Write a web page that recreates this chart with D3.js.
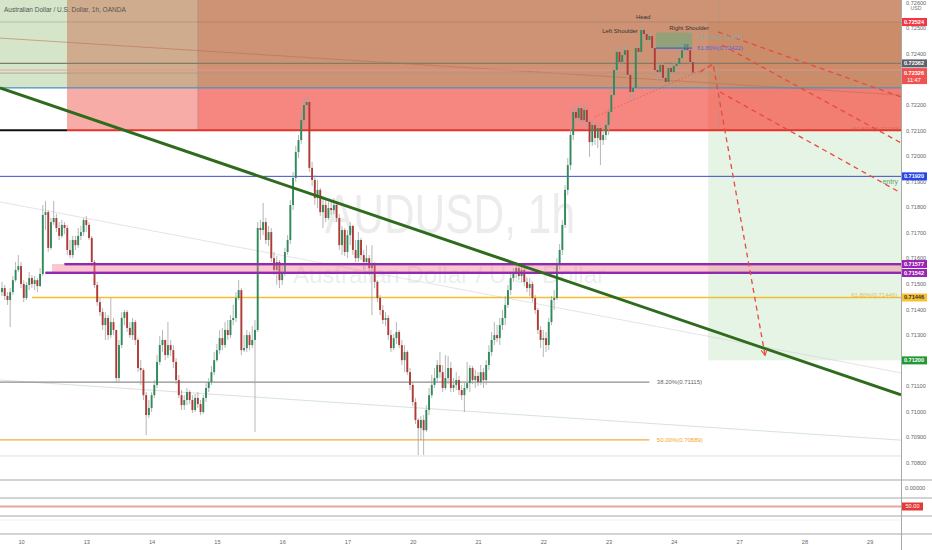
<!DOCTYPE html>
<html><head><meta charset="utf-8">
<script src="https://cdn.jsdelivr.net/npm/d3@7/dist/d3.min.js"></script>
<style>html,body{margin:0;padding:0;background:#fff;overflow:hidden}svg{display:block;font-family:"Liberation Sans",Arial,sans-serif}</style>
</head><body><svg id="chart" width="932" height="550"></svg>
<script>
// ---------------- DATA ----------------
const title = "Australian Dollar / U.S. Dollar, 1h, OANDA";
const watermarkMain = "AUDUSD, 1h";
const watermarkSub = "Australian Dollar / U.S. Dollar";
const firstOpen = 0.71467;
const closes = [
0.71483,0.71452,0.71436,0.71467,0.71514,0.71554,0.71569,0.71499,0.71444,0.71495,
0.71522,0.71499,0.71514,0.71491,0.71538,0.71769,0.71780,0.71640,0.71741,0.71757,
0.71718,0.71687,0.71730,0.71718,0.71632,0.71612,0.71671,0.71651,0.71687,0.71702,
0.71749,0.71730,0.71679,0.71585,0.71495,0.71428,0.71389,0.71338,0.71366,0.71299,
0.71350,0.71319,0.71131,0.71260,0.71366,0.71389,0.71327,0.71299,0.71350,0.71280,
0.71170,0.71162,0.71064,0.70986,0.71014,0.71064,0.71104,0.71194,0.71260,0.71280,
0.71221,0.71260,0.71240,0.71194,0.71123,0.71064,0.71025,0.71045,0.71076,0.71045,
0.71006,0.71053,0.71029,0.70998,0.71053,0.71092,0.71115,0.71154,0.71201,0.71240,
0.71287,0.71260,0.71319,0.71299,0.71358,0.71366,0.71444,0.71475,0.71240,0.71248,
0.71299,0.71260,0.71280,0.71319,0.71718,0.71710,0.71741,0.71671,0.71702,0.71600,
0.71554,0.71585,0.71514,0.71546,0.71624,0.71671,0.71808,0.71914,0.72015,0.72062,
0.72140,0.72199,0.72211,0.71953,0.71906,0.71835,0.71867,0.71780,0.71808,0.71757,
0.71796,0.71788,0.71808,0.71757,0.71651,0.71710,0.71624,0.71690,0.71726,0.71632,
0.71600,0.71671,0.71612,0.71585,0.71600,0.71561,0.71573,0.71507,0.71444,0.71397,
0.71358,0.71366,0.71299,0.71248,0.71287,0.71311,0.71260,0.71201,0.71233,0.71154,
0.71104,0.71037,0.70967,0.70935,0.70967,0.70927,0.71006,0.71064,0.71104,0.71131,
0.71182,0.71154,0.71092,0.71131,0.71170,0.71092,0.71104,0.71123,0.71084,0.71064,
0.71092,0.71111,0.71170,0.71123,0.71139,0.71115,0.71154,0.71123,0.71182,0.71233,
0.71280,0.71299,0.71287,0.71338,0.71366,0.71417,0.71475,0.71522,0.71546,0.71561,
0.71530,0.71554,0.71507,0.71483,0.71499,0.71444,0.71397,0.71319,0.71280,0.71287,
0.71260,0.71350,0.71436,0.71444,0.71573,0.71632,0.71730,0.71867,0.71964,0.72082,
0.72172,0.72148,0.72187,0.72140,0.72180,0.72133,0.72054,0.72121,0.72070,0.72109,
0.72062,0.72082,0.72121,0.72172,0.72238,0.72336,0.72407,0.72367,0.72395,0.72414,
0.72317,0.72250,0.72266,0.72422,0.72407,0.72493,0.72477,0.72454,0.72469,0.72422,
0.72336,0.72328,0.72356,0.72305,0.72289,0.72344,0.72328,0.72352,0.72360,0.72383,
0.72414,0.72438,0.72414,0.72367,0.72326];
const highs = [
0.71507,0.71495,0.71467,0.71483,0.71530,0.71585,0.71612,0.71585,0.71514,0.71507,
0.71546,0.71534,0.71530,0.71522,0.71561,0.71808,0.71824,0.71788,0.71757,0.71824,
0.71773,0.71741,0.71749,0.71741,0.71730,0.71671,0.71687,0.71687,0.71718,0.71726,
0.71757,0.71765,0.71741,0.71687,0.71593,0.71507,0.71444,0.71405,0.71389,0.71377,
0.71444,0.71366,0.71319,0.71280,0.71389,0.71397,0.71397,0.71350,0.71366,0.71358,
0.71287,0.71201,0.71170,0.71076,0.71045,0.71076,0.71123,0.71221,0.71295,0.71319,
0.71280,0.71350,0.71280,0.71260,0.71209,0.71143,0.71084,0.71064,0.71092,0.71084,
0.71064,0.71068,0.71076,0.71045,0.71064,0.71111,0.71131,0.71178,0.71233,0.71264,
0.71319,0.71327,0.71350,0.71358,0.71377,0.71417,0.71467,0.71514,0.71483,0.71299,
0.71319,0.71311,0.71334,0.71358,0.71741,0.71749,0.71816,0.71757,0.71726,0.71718,
0.71624,0.71608,0.71593,0.71573,0.71640,0.71690,0.71827,0.71937,0.72039,0.72082,
0.72172,0.72227,0.72238,0.72219,0.71976,0.71925,0.71906,0.71874,0.71843,0.71827,
0.71820,0.71827,0.71835,0.71820,0.71773,0.71726,0.71718,0.71710,0.71741,0.71730,
0.71671,0.71702,0.71679,0.71632,0.71651,0.71612,0.71651,0.71585,0.71514,0.71456,
0.71417,0.71389,0.71377,0.71319,0.71303,0.71350,0.71319,0.71280,0.71260,0.71240,
0.71170,0.71115,0.71053,0.70974,0.70982,0.70986,0.71025,0.71092,0.71143,0.71170,
0.71201,0.71233,0.71182,0.71221,0.71217,0.71194,0.71131,0.71154,0.71139,0.71104,
0.71115,0.71194,0.71182,0.71178,0.71162,0.71154,0.71182,0.71170,0.71201,0.71260,
0.71311,0.71350,0.71338,0.71366,0.71397,0.71452,0.71495,0.71546,0.71561,0.71585,
0.71573,0.71577,0.71561,0.71522,0.71522,0.71507,0.71456,0.71405,0.71334,0.71319,
0.71311,0.71366,0.71452,0.71475,0.71600,0.71655,0.71749,0.71886,0.71992,0.72109,
0.72195,0.72199,0.72203,0.72199,0.72203,0.72195,0.72148,0.72140,0.72133,0.72125,
0.72121,0.72109,0.72140,0.72187,0.72258,0.72356,0.72430,0.72422,0.72426,0.72438,
0.72414,0.72328,0.72289,0.72438,0.72434,0.72504,0.72508,0.72493,0.72485,0.72477,
0.72434,0.72367,0.72375,0.72367,0.72336,0.72360,0.72360,0.72367,0.72375,0.72399,
0.72438,0.72454,0.72446,0.72422,0.72383];
const lows = [
0.71452,0.71436,0.71417,0.71330,0.71456,0.71507,0.71546,0.71483,0.71428,0.71436,
0.71475,0.71483,0.71475,0.71467,0.71487,0.71530,0.71710,0.71624,0.71632,0.71730,
0.71702,0.71671,0.71679,0.71694,0.71612,0.71600,0.71600,0.71632,0.71640,0.71671,
0.71687,0.71702,0.71671,0.71569,0.71483,0.71413,0.71374,0.71319,0.71280,0.71280,
0.71287,0.71299,0.71115,0.71115,0.71248,0.71338,0.71311,0.71287,0.71280,0.71260,
0.71154,0.71104,0.71045,0.70908,0.70974,0.70998,0.71053,0.71092,0.71182,0.71233,
0.71201,0.71209,0.71217,0.71170,0.71107,0.71053,0.71006,0.71006,0.71025,0.71029,
0.70994,0.70998,0.71014,0.70986,0.70990,0.71037,0.71076,0.71104,0.71143,0.71194,
0.71225,0.71240,0.71248,0.71280,0.71287,0.71338,0.71350,0.71436,0.71221,0.71233,
0.71233,0.71240,0.71248,0.70920,0.71311,0.71671,0.71690,0.71655,0.71647,0.71585,
0.71534,0.71495,0.71483,0.71495,0.71530,0.71612,0.71655,0.71788,0.71898,0.71992,
0.72047,0.72117,0.72180,0.71937,0.71882,0.71808,0.71796,0.71765,0.71718,0.71741,
0.71749,0.71769,0.71773,0.71741,0.71632,0.71612,0.71608,0.71600,0.71651,0.71612,
0.71585,0.71585,0.71593,0.71554,0.71573,0.71534,0.71377,0.71483,0.71428,0.71377,
0.71342,0.71334,0.71280,0.71233,0.71240,0.71264,0.71248,0.71182,0.71154,0.71143,
0.71084,0.71021,0.70951,0.70830,0.70888,0.70830,0.70920,0.70986,0.71053,0.71092,
0.71115,0.71131,0.71076,0.71084,0.71107,0.71076,0.71076,0.71084,0.71064,0.71045,
0.70998,0.71084,0.71076,0.71107,0.71092,0.71100,0.71104,0.71092,0.71104,0.71162,
0.71217,0.71260,0.71272,0.71260,0.71319,0.71338,0.71405,0.71456,0.71507,0.71522,
0.71514,0.71507,0.71491,0.71467,0.71452,0.71428,0.71381,0.71303,0.71248,0.71213,
0.71233,0.71240,0.71338,0.71397,0.71436,0.71554,0.71612,0.71718,0.71847,0.71945,
0.72062,0.72121,0.72133,0.72117,0.72125,0.72101,0.71996,0.72039,0.72043,0.72031,
0.71964,0.72043,0.72062,0.72082,0.72160,0.72227,0.72320,0.72352,0.72352,0.72367,
0.72297,0.72219,0.72219,0.72250,0.72383,0.72399,0.72454,0.72438,0.72438,0.72407,
0.72320,0.72297,0.72305,0.72289,0.72277,0.72281,0.72313,0.72320,0.72336,0.72352,
0.72367,0.72399,0.72399,0.72352,0.72320];

// x-axis day ticks (bar index where each day starts)
const dayTickIndex = [7,31,55,79,103,127,151,175,199,223,247,271,295,319];
const dayTickLabel = ["10","13","14","15","16","17","20","21","22","23","24","27","28","29"];
// price axis ticks (those not hidden behind the coloured price markers)
const priceTicks = [0.726,0.725,0.724,0.722,0.721,0.720,0.719,0.718,0.717,0.716,0.715,0.714,0.713,0.711,0.710,0.709,0.708];

// zones: [startBar, endBar, topPrice, bottomPrice]
const zoneStart  = [23.9, 72, 259.6, -1, 259.6];
const zoneEnd    = [331, 331, 331, 331, 331];
const zoneTop    = [0.7262, 0.7262, 0.72524, 0.7262, 0.72100];
const zoneBottom = [0.72100, 0.72100, 0.72100, 0.72266, 0.71200];

// horizontal levels
const levelPrice = [0.72524, 0.72362, 0.72336, 0.72324, 0.72266, 0.72100, 0.72100, 0.71920, 0.71577, 0.71542, 0.71446, 0.71115, 0.70889, 0.70826];
const levelStart = [-1, -1, -1, -1, -1, -1, 23.9, -1, 23, 16, 11, -1, -1, -1];
const levelEnd   = [331, 331, 331, 331, 331, 23.9, 331, 331, 331, 331, 331, 238, 238, 331];

// band between the two purple levels
const bandStart = 18.4, bandTop = 0.71577, bandBottom = 0.71542;

// sloped lines: [bar, price] pairs
const trendLine = [[-0.74, 0.72266], [330.5, 0.71065]];
const thinLines = [
  [[-0.74, 0.72461], [330.5, 0.72238]],
  [[-0.74, 0.71820], [330.5, 0.71151]],
  [[-0.74, 0.71123], [330.5, 0.70888]]
];
const projectionLines = [
  [[263.2, 0.72485], [330.5, 0.72231]],
  [[264.7, 0.72434], [330.5, 0.72051]],
  [[264.0, 0.72250], [330.5, 0.71855]]
];
const projectionArrow = [[256.6, 0.72328], [261.4, 0.72360], [280.5, 0.71221]];
const neckline = [[218, 0.72153], [261.4, 0.72356]];
const positionDivider = [[263.6, 0.7262], [263.6, 0.72100]];

// fib box near right shoulder
const fibBoxStart = 240.4, fibBoxEnd = 253.7, fibHigh = 0.72482, fibLow = 0.72422;

// pattern annotations
const patternText  = ["Left Shoulder", "Head", "Right Shoulder"];
const patternBar   = [227.2, 235.7, 252.6];
const patternPrice = [0.72481, 0.72536, 0.72493];

// fib labels
const fibLabelText  = ["38.20%(0.71115)", "50.00%(0.70889)", "78.60%(0.72482)", "61.80%(0.72422)", "61.80%(0.71446)", "61.80%(0.72100)", "entry"];
const fibLabelBar   = [240, 240, 254.8, 254.8, 329.1, 329.8, 329.4];
const fibLabelPrice = [0.71115, 0.70889, 0.72465, 0.72422, 0.71458, 0.72104, 0.71900];

// right-axis price markers
const markerPrice = [0.72524, 0.72362, 0.71920, 0.71577, 0.71542, 0.71446, 0.71200, 0.72326];
const countdown = "11:47";

// lower panes
const pane2Value = [0];
const pane3Level = [50];

// ---------------- STYLES / LAYOUT ----------------
const W = 932, H = 550, plotR = 901, mainBottom = 480;
const zoneFill = ["rgba(240,70,60,0.45)", "rgba(240,70,60,0.36)", "rgba(230,90,60,0.22)", "rgba(120,175,90,0.32)", "rgba(76,175,80,0.14)"];
const levelStyle = [
  {c:"rgba(120,100,90,0.35)", w:0.8},
  {c:"#857a66", w:1.1},
  {c:"rgba(235,150,140,0.9)", w:0.9},
  {c:"rgba(175,150,140,0.9)", w:0.9},
  {c:"#4a8fc6", w:1.1},
  {c:"#111", w:2},
  {c:"#e0352b", w:2},
  {c:"#3d4fc4", w:1},
  {c:"#8e2bb0", w:2.2},
  {c:"#8e2bb0", w:2.2},
  {c:"#f2bf2c", w:1.6},
  {c:"#8d8d8d", w:1.4},
  {c:"#f6aa48", w:1.4},
  {c:"rgba(200,200,200,0.7)", w:0.8}
];
const thinStyle = ["rgba(185,110,80,0.55)", "rgba(205,205,215,0.55)", "rgba(195,215,200,0.7)"];
const markerBg = ["#f23645", "#5d606b", "#2646e6", "#9a24b4", "#9a24b4", "#f7c233", "#1f9a34", "#ef5350"];
const markerFg = ["#fff", "#fff", "#fff", "#fff", "#fff", "#333", "#fff", "#fff"];
const fibLabelColor = ["#666", "#f5a623", "#7fb0a8", "#5567e0", "#d8c266", "rgba(205,80,70,0.55)", "#5e9e72"];
const fibLabelAnchor = ["start", "start", "start", "start", "end", "end", "end"];

const svg = d3.select("#chart");
const x = d3.scaleLinear().domain([-0.735, 330.5]).range([0, plotR]);
const y = d3.scaleLinear().domain([0.70732, 0.72610]).range([mainBottom, 0]);
const line = d3.line().x(d => x(d[0])).y(d => y(d[1]));

svg.append("rect").attr("width", W).attr("height", H).attr("fill", "#fff");
const defs = svg.append("defs");
defs.append("clipPath").attr("id", "clipMain").append("rect").attr("x", 0).attr("y", 0).attr("width", plotR).attr("height", mainBottom);
defs.append("marker").attr("id", "arrow").attr("viewBox", "0 0 10 10").attr("refX", 9).attr("refY", 5)
  .attr("markerWidth", 5).attr("markerHeight", 5).attr("orient", "auto")
  .append("path").attr("d", "M0,0 L10,5 L0,10").attr("fill", "none").attr("stroke", "#e84a3c").attr("stroke-width", 1.6);

const main = svg.append("g").attr("clip-path", "url(#clipMain)");

// watermark
main.append("text").attr("x", 450).attr("y", 233).attr("text-anchor", "middle")
  .attr("font-size", 56).attr("textLength", 250).attr("lengthAdjust", "spacingAndGlyphs")
  .attr("fill", "rgba(140,142,150,0.17)").text(watermarkMain);
main.append("text").attr("x", 449).attr("y", 283).attr("text-anchor", "middle")
  .attr("font-size", 24).attr("textLength", 312).attr("lengthAdjust", "spacingAndGlyphs")
  .attr("fill", "rgba(140,142,150,0.17)").text(watermarkSub);

// zones
main.selectAll("rect.zone").data(zoneStart).join("rect").attr("class", "zone")
  .attr("x", (d, i) => x(zoneStart[i])).attr("width", (d, i) => x(zoneEnd[i]) - x(zoneStart[i]))
  .attr("y", (d, i) => y(zoneTop[i])).attr("height", (d, i) => y(zoneBottom[i]) - y(zoneTop[i]))
  .attr("fill", (d, i) => zoneFill[i]);
main.append("line").attr("x1", x(72)).attr("x2", x(72)).attr("y1", y(0.7262)).attr("y2", y(0.72100))
  .attr("stroke", "rgba(150,130,130,0.5)").attr("stroke-width", 0.8);
main.append("path").datum(positionDivider).attr("d", line).attr("stroke", "rgba(160,150,150,0.45)").attr("stroke-width", 0.8);

// thin sloped lines
thinLines.forEach((l, i) => main.append("path").datum(l).attr("d", line).attr("fill", "none").attr("stroke", thinStyle[i]).attr("stroke-width", 1));

// horizontal levels
main.selectAll("line.level").data(levelPrice).join("line").attr("class", "level")
  .attr("x1", (d, i) => x(levelStart[i])).attr("x2", (d, i) => x(levelEnd[i]))
  .attr("y1", d => y(d)).attr("y2", d => y(d))
  .attr("stroke", (d, i) => levelStyle[i].c).attr("stroke-width", (d, i) => levelStyle[i].w);

// candles
const candles = closes.map((c, i) => ({i, o: i ? closes[i - 1] : firstOpen, h: highs[i], l: lows[i], c}));
const cg = main.append("g");
cg.selectAll("line.wick").data(candles).join("line").attr("class", "wick")
  .attr("x1", d => x(d.i)).attr("x2", d => x(d.i))
  .attr("y1", d => y(Math.max(d.h, d.o, d.c))).attr("y2", d => y(Math.min(d.l, d.o, d.c)))
  .attr("stroke", "#a3a3a3").attr("stroke-width", 0.8);
cg.selectAll("rect.body").data(candles).join("rect").attr("class", "body")
  .attr("x", d => x(d.i) - 0.95).attr("width", 1.9)
  .attr("y", d => y(Math.max(d.o, d.c)))
  .attr("height", d => Math.max(0.8, y(Math.min(d.o, d.c)) - y(Math.max(d.o, d.c))))
  .attr("fill", d => d.c >= d.o ? "#2f8a5c" : "#b03a36");

// purple band fill
main.append("rect").attr("x", x(bandStart)).attr("width", x(331) - x(bandStart))
  .attr("y", y(bandTop)).attr("height", y(bandBottom) - y(bandTop)).attr("fill", "rgba(245,120,140,0.42)");
[8, 9].forEach(k => main.append("line").attr("x1", x(levelStart[k])).attr("x2", x(levelEnd[k]))
  .attr("y1", y(levelPrice[k])).attr("y2", y(levelPrice[k])).attr("stroke", levelStyle[k].c).attr("stroke-width", levelStyle[k].w));

// fib box
main.append("rect").attr("x", x(fibBoxStart)).attr("width", x(fibBoxEnd) - x(fibBoxStart))
  .attr("y", y(fibHigh)).attr("height", y(fibLow) - y(fibHigh)).attr("fill", "rgba(90,175,125,0.5)");
main.append("line").attr("x1", x(fibBoxStart)).attr("x2", x(fibBoxEnd)).attr("y1", y(fibLow)).attr("y2", y(fibLow))
  .attr("stroke", "#3a62d8").attr("stroke-width", 1.2);

// trend line
main.append("path").datum(trendLine).attr("d", line).attr("fill", "none").attr("stroke", "#2f6b1d").attr("stroke-width", 3);

// neckline & projections
main.append("path").datum(neckline).attr("d", line).attr("fill", "none").attr("stroke", "rgba(230,80,80,0.75)").attr("stroke-width", 1).attr("stroke-dasharray", "1.5,2");
projectionLines.forEach(l => main.append("path").datum(l).attr("d", line).attr("fill", "none")
  .attr("stroke", "#e84a3c").attr("stroke-width", 1.3).attr("stroke-dasharray", "5,4"));
main.append("path").datum(projectionArrow).attr("d", line).attr("fill", "none")
  .attr("stroke", "#e84a3c").attr("stroke-width", 1.3).attr("stroke-dasharray", "5,4").attr("marker-end", "url(#arrow)");

// pattern annotations
main.selectAll("text.pat").data(patternText).join("text").attr("class", "pat")
  .attr("x", (d, i) => x(patternBar[i])).attr("y", (d, i) => y(patternPrice[i]))
  .attr("text-anchor", "middle").attr("font-size", 6).attr("fill", "#333").text(d => d);
// fib labels
main.selectAll("text.fib").data(fibLabelText).join("text").attr("class", "fib")
  .attr("x", (d, i) => x(fibLabelBar[i]) + (fibLabelAnchor[i] === "start" ? 2 : 0))
  .attr("y", (d, i) => y(fibLabelPrice[i])).attr("dy", "0.35em")
  .attr("text-anchor", (d, i) => fibLabelAnchor[i]).attr("font-size", (d, i) => i === 6 ? 7 : 6)
  .attr("fill", (d, i) => fibLabelColor[i]).text(d => d);

// title
svg.append("text").attr("x", 4).attr("y", 11.5).attr("font-size", 6.5).attr("fill", "#555").text(title);

// ----- right axis -----
svg.append("rect").attr("x", plotR).attr("y", 0).attr("width", W - plotR).attr("height", H).attr("fill", "#fff");
const yAxis = svg.append("g").attr("transform", `translate(${plotR},0)`)
  .call(d3.axisRight(y).tickValues(priceTicks).tickFormat(d3.format(".5f")).tickSize(0).tickPadding(5));
yAxis.select(".domain").remove();
yAxis.selectAll("text").attr("font-size", 5.6).attr("fill", "#666").attr("font-family", "Liberation Sans, Arial, sans-serif");
svg.append("text").attr("x", 916).attr("y", 9.5).attr("text-anchor", "middle").attr("font-size", 5.2).attr("fill", "#777").text("USD");

// markers
markerPrice.forEach((p, i) => {
  const cy = y(p), last = i === markerPrice.length - 1;
  const h = last ? 16 : 8, top = last ? cy - 4.5 : cy - 4;
  svg.append("rect").attr("x", plotR).attr("y", top).attr("width", 26).attr("height", h).attr("fill", markerBg[i]);
  svg.append("text").attr("x", plotR + 13).attr("y", cy).attr("dy", "0.35em").attr("text-anchor", "middle")
    .attr("font-size", 5.6).attr("font-weight", "bold").attr("fill", markerFg[i]).text(d3.format(".5f")(p));
  if (last) svg.append("text").attr("x", plotR + 13).attr("y", cy + 7.5).attr("dy", "0.35em").attr("text-anchor", "middle")
    .attr("font-size", 5.6).attr("fill", "#fff").text(countdown);
});

// ----- lower panes -----
const paneEdges = [480, 498, 516, 534];
paneEdges.forEach(e => svg.append("line").attr("x1", 0).attr("x2", W).attr("y1", e).attr("y2", e).attr("stroke", "#a8a8a8").attr("stroke-width", 1.2));
svg.append("line").attr("x1", 0).attr("x2", plotR).attr("y1", 520).attr("y2", 520).attr("stroke", "#eee").attr("stroke-width", 0.8);
const y2 = d3.scaleLinear().domain([-1, 1]).range([496, 480]);
svg.selectAll("text.p2").data(pane2Value).join("text").attr("class", "p2").attr("x", 905).attr("y", d => y2(d)).attr("dy", "0.35em")
  .attr("font-size", 5.6).attr("fill", "#666").text(d => d3.format(".5f")(d));
const y3 = d3.scaleLinear().domain([0, 100]).range([516, 498]);
svg.selectAll("line.p3").data(pane3Level).join("line").attr("class", "p3").attr("x1", 0).attr("x2", plotR)
  .attr("y1", d => y3(d) - 0.5).attr("y2", d => y3(d) - 0.5).attr("stroke", "#e8a3a3").attr("stroke-width", 2);
pane3Level.forEach(v => {
  svg.append("rect").attr("x", plotR + 1).attr("y", y3(v) - 4.5).attr("width", 21).attr("height", 8).attr("fill", "#e53935");
  svg.append("text").attr("x", plotR + 11.5).attr("y", y3(v) - 0.5).attr("dy", "0.35em").attr("text-anchor", "middle")
    .attr("font-size", 5.6).attr("fill", "#fff").text(d3.format(".2f")(v));
});

// axis separator
svg.append("line").attr("x1", plotR + 0.5).attr("x2", plotR + 0.5).attr("y1", 0).attr("y2", H).attr("stroke", "#a8a8a8").attr("stroke-width", 1);

// ----- x axis -----
const xAxis = svg.append("g").attr("transform", "translate(0,536)")
  .call(d3.axisBottom(x).tickValues(dayTickIndex).tickFormat((d, i) => dayTickLabel[i]).tickSize(0).tickPadding(4));
xAxis.select(".domain").remove();
xAxis.selectAll("text").attr("font-size", 5.6).attr("fill", "#666").attr("font-family", "Liberation Sans, Arial, sans-serif");
</script></body></html>
